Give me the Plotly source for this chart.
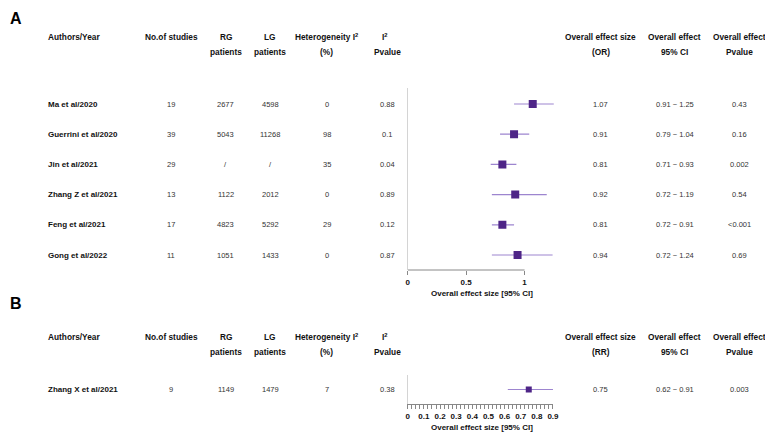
import plotly.graph_objects as go

# page body has an 8px default margin: lay out in page pixels, shift into the figure
OFF = 8
W, H = 773 - OFF, 434 - OFF

# ---------------- Panel A data ----------------
authors_a = ["Ma et al/2020", "Guerrini et al/2020", "Jin et al/2021",
             "Zhang Z et al/2021", "Feng et al/2021", "Gong et al/2022"]
studies_a = ["19", "39", "29", "13", "17", "11"]
rg_a = ["2677", "5043", "/", "1122", "4823", "1051"]
lg_a = ["4598", "11268", "/", "2012", "5292", "1433"]
het_a = ["0", "98", "35", "0", "29", "0"]
i2p_a = ["0.88", "0.1", "0.04", "0.89", "0.12", "0.87"]
or_a = [1.07, 0.91, 0.81, 0.92, 0.81, 0.94]
lo_a = [0.91, 0.79, 0.71, 0.72, 0.72, 0.72]
hi_a = [1.25, 1.04, 0.93, 1.19, 0.91, 1.24]
p_a = ["0.43", "0.16", "0.002", "0.54", "<0.001", "0.69"]

# ---------------- Panel B data ----------------
authors_b = ["Zhang X et al/2021"]
studies_b = ["9"]
rg_b = ["1149"]
lg_b = ["1479"]
het_b = ["7"]
i2p_b = ["0.38"]
rr_b = [0.75]
lo_b = [0.62]
hi_b = [0.91]
p_b = ["0.003"]

ticks_a = [0, 0.5, 1]
ticklabels_a = ["0", "0.5", "1"]

FONT = "Liberation Sans, Arial, sans-serif"
SQ = "#4e2587"
LN = "#9d85cf"


def px(x):
    return (x - OFF) / W


def py(y):
    return 1 - (y - OFF) / H


fig = go.Figure()

rows_a = list(range(len(authors_a)))
fig.add_trace(go.Scatter(
    x=or_a, y=rows_a, mode="markers", xaxis="x", yaxis="y",
    marker=dict(symbol="square", size=8, color=SQ),
    error_x=dict(type="data", symmetric=False,
                 array=[h - e for h, e in zip(hi_a, or_a)],
                 arrayminus=[e - l for e, l in zip(or_a, lo_a)],
                 color=LN, thickness=1.2, width=0),
    showlegend=False, hoverinfo="skip"))

rows_b = list(range(len(authors_b)))
fig.add_trace(go.Scatter(
    x=rr_b, y=rows_b, mode="markers", xaxis="x2", yaxis="y2",
    marker=dict(symbol="square", size=6, color=SQ),
    error_x=dict(type="data", symmetric=False,
                 array=[h - e for h, e in zip(hi_b, rr_b)],
                 arrayminus=[e - l for e, l in zip(rr_b, lo_b)],
                 color=LN, thickness=1.2, width=0),
    showlegend=False, hoverinfo="skip", cliponaxis=False))

anns = []


def ann(text, x, y, size=7.5, bold=False, color="#333", xanchor="center",
        yref="paper"):
    anns.append(dict(text=text, x=x, y=y, xref="paper", yref=yref,
                     xanchor=xanchor, yanchor="middle", showarrow=False,
                     font=dict(family=FONT, size=size, color=color,
                               weight="bold" if bold else "normal")))


HS = 8.3
LEFT = 44
cols = dict(studies=171, rg=226, lg=271, het=328, i2p=389,
            eff=605, ci=680, p=745)


def header(y1, y2, effname):
    ann("Authors/Year", px(LEFT), py(y1), HS, True, "#111", "left")
    ann("No.of studies", px(cols["studies"]), py(y1), HS, True, "#111")
    ann("RG", px(cols["rg"]), py(y1), HS, True, "#111")
    ann("patients", px(cols["rg"]), py(y2), HS, True, "#111")
    ann("LG", px(cols["lg"]), py(y1), HS, True, "#111")
    ann("patients", px(cols["lg"]), py(y2), HS, True, "#111")
    ann("Heterogeneity I<sup>2</sup>", px(cols["het"]), py(y1), HS, True, "#111")
    ann("(%)", px(cols["het"]), py(y2), HS, True, "#111")
    ann("I<sup>2</sup>", px(cols["i2p"] - 2), py(y1), HS, True, "#111")
    ann("Pvalue", px(cols["i2p"]), py(y2), HS, True, "#111")
    ann("Overall effect size", px(cols["eff"]), py(y1), HS, True, "#111")
    ann(effname, px(cols["eff"]), py(y2), HS, True, "#111")
    ann("Overall effect", px(cols["ci"]), py(y1), HS, True, "#111")
    ann("95% CI", px(cols["ci"]), py(y2), HS, True, "#111")
    ann("Overall effect", px(cols["p"]), py(y1), HS, True, "#111")
    ann("Pvalue", px(cols["p"]), py(y2), HS, True, "#111")


def body(yref, authors, studies, rg, lg, het, i2p, eff, lo, hi, pv):
    for i in range(len(authors)):
        ann(authors[i], px(LEFT), i, 8, True, "#111", "left", yref)
        ann(studies[i], px(cols["studies"]), i, yref=yref)
        ann(rg[i], px(cols["rg"]), i, yref=yref)
        ann(lg[i], px(cols["lg"]), i, yref=yref)
        ann(het[i], px(cols["het"]), i, yref=yref)
        ann(i2p[i], px(cols["i2p"]), i, yref=yref)
        ann(f"{eff[i]:.2f}", px(cols["eff"]), i, yref=yref)
        ann(f"{lo[i]:.2f} ~ {hi[i]:.2f}", px(cols["ci"]), i, yref=yref)
        ann(pv[i], px(cols["p"]), i, yref=yref)


X0 = 410  # page x of the forest-plot zero
ann("A", px(6), py(18), 16, True, "#000", "left")
ann("B", px(6), py(303), 16, True, "#000", "left")
header(37, 52, "(OR)")
header(337, 352, "(RR)")
body("y", authors_a, studies_a, rg_a, lg_a, het_a, i2p_a, or_a, lo_a, hi_a, p_a)
body("y2", authors_b, studies_b, rg_b, lg_b, het_b, i2p_b, rr_b, lo_b, hi_b, p_b)
ann("Overall effect size [95% CI]", px(X0 + 75), py(293), 8, True, "#111")
ann("Overall effect size [95% CI]", px(X0 + 75), py(427), 8, True, "#111")

scale_a = 118.0
scale_b = 163.0
row_h = 30.2
ytop_a, ybot_a, yrow0 = 88, 270, 104

fig.update_layout(
    width=W, height=H, margin=dict(l=0, r=0, t=0, b=0),
    paper_bgcolor="white", plot_bgcolor="rgba(0,0,0,0)",
    annotations=anns,
    xaxis=dict(domain=[px(X0), px(X0 + scale_a * 1.3)], range=[0, 1.3],
               anchor="y", showgrid=False, zeroline=False, showline=False,
               tickvals=ticks_a, ticktext=ticklabels_a, ticks="outside",
               ticklen=4, tickcolor="#888",
               tickfont=dict(family=FONT, size=8, color="#111", weight="bold")),
    yaxis=dict(domain=[py(ybot_a), py(ytop_a)],
               range=[(ybot_a - yrow0) / row_h, (ytop_a - yrow0) / row_h],
               anchor="x", showgrid=False, zeroline=False, showline=True,
               linecolor="#d4d4d4", linewidth=1, showticklabels=False, ticks=""),
    xaxis2=dict(domain=[px(X0), px(X0 + scale_b * 0.9)], range=[0, 0.9],
                anchor="y2", showgrid=False, zeroline=False, showline=True,
                linecolor="#888", linewidth=1, tick0=0, dtick=0.1,
                ticks="outside", ticklen=4, tickcolor="#888",
                minor=dict(tick0=0, dtick=0.025, ticks="outside", ticklen=4,
                           tickcolor="#888"),
                tickfont=dict(family=FONT, size=8, color="#111", weight="bold")),
    yaxis2=dict(domain=[py(404), py(375)], range=[-0.5, 0.5], anchor="x2",
                showgrid=False, zeroline=False, showline=True,
                linecolor="#d4d4d4", linewidth=1, showticklabels=False, ticks=""),
    shapes=[dict(type="line", xref="x", yref="paper", x0=ticks_a[0],
                 x1=ticks_a[-1], y0=py(ybot_a), y1=py(ybot_a),
                 line=dict(color="#888", width=1))],
)

fig.write_html("out.html")
